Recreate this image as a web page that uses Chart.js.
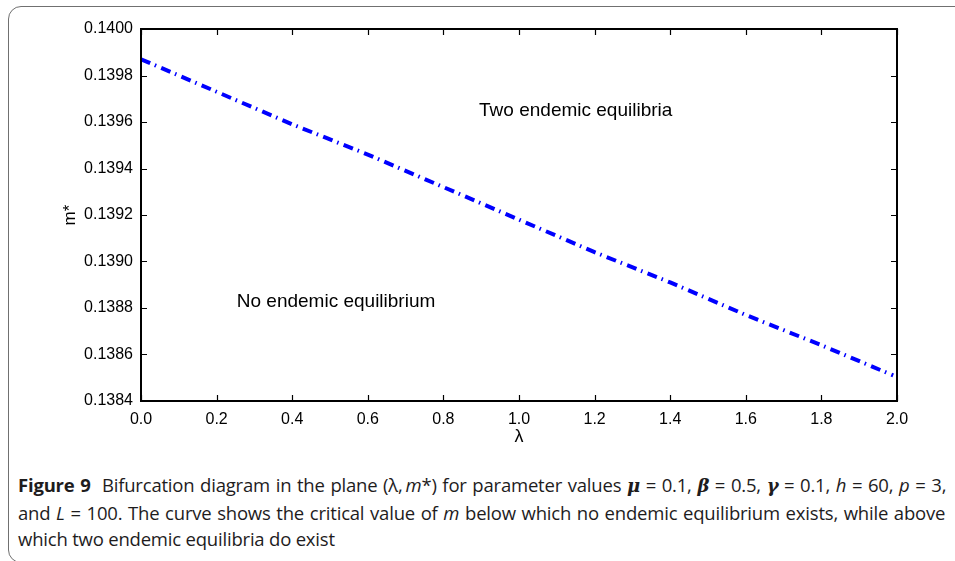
<!DOCTYPE html>
<html>
<head>
<meta charset="utf-8">
<script src="https://cdn.jsdelivr.net/npm/chart.js@4.4.1/dist/chart.umd.min.js"></script>
<style>
  html, body { margin: 0; padding: 0; background: #fff; }
  body { width: 955px; height: 561px; position: relative; overflow: hidden; }
  #box {
    position: absolute; left: 8px; top: 6px; width: 970px; height: 557px;
    border: 1.5px solid #707070; border-radius: 13px; box-sizing: border-box;
  }
  #plot { position: absolute; left: 0; top: 0; }
  #caption {
    position: absolute; left: 18px; top: 472px; width: 927px;
    font-family: "Open Sans", sans-serif; font-size: 18.5px; color: #1e1c1d;
    line-height: 26.5px; letter-spacing: -0.2px;
  }
  #caption .ln { white-space: nowrap; display: inline-block; }
  #caption b.fig { font-weight: 700; }
  #caption .sym { font-weight: 700; font-style: italic; font-family: "DejaVu Serif", serif; font-size: 18px; }
</style>
</head>
<body>
<div id="box"></div>
<canvas id="plot" width="955" height="450"></canvas>
<div id="caption">
  <div class="ln just"><b class="fig">Figure 9</b>&nbsp; Bifurcation diagram in the plane (λ,&thinsp;<i>m</i>*) for parameter values <span class="sym">μ</span> = 0.1, <span class="sym">β</span> = 0.5, <span class="sym">γ</span> = 0.1, <i>h</i> = 60, <i>p</i> = 3,</div><br>
  <div class="ln just">and <i>L</i> = 100. The curve shows the critical value of <i>m</i> below which no endemic equilibrium exists, while above</div><br>
  <div class="ln">which two endemic equilibria do exist</div>
</div>
<script>
// critical m* as a function of lambda
const lambdaValues = [0, 0.2, 0.4, 0.6, 0.8, 1.0, 1.2, 1.4, 1.6, 1.8, 1.99];
const mStar = [0.13987, 0.13973, 0.13959, 0.13946, 0.13932, 0.13918, 0.13904, 0.13891, 0.13877, 0.13864, 0.13851];

const regionText = ["Two endemic equilibria", "No endemic equilibrium"];
const regionLambda = [1.15, 0.516];
const regionM = [0.139647, 0.138826];

const tickFont = { family: '"Liberation Sans", Arial, sans-serif', size: 16 };

// justify the full caption lines by word spacing (may tighten as well as widen)
document.querySelectorAll('#caption .just').forEach(el => {
  const gaps = (el.textContent.trim().match(/ +/g) || []).length;
  el.style.wordSpacing = ((927 - el.offsetWidth) / gaps) + 'px';
});

// box around the plot, inward ticks on all four sides, region labels
const frame = {
  id: 'frame',
  afterDraw(chart) {
    const { ctx, chartArea: a, scales: { x, y } } = chart;
    ctx.save();
    ctx.strokeStyle = '#000';
    ctx.lineWidth = 1.2;
    ctx.beginPath();
    x.ticks.forEach(t => {
      const px = Math.round(x.getPixelForValue(t.value)) + 0.5;
      ctx.moveTo(px, a.bottom); ctx.lineTo(px, a.bottom - 6);
      ctx.moveTo(px, a.top); ctx.lineTo(px, a.top + 6);
    });
    y.ticks.forEach(t => {
      const py = Math.round(y.getPixelForValue(t.value)) + 0.5;
      ctx.moveTo(a.left, py); ctx.lineTo(a.left + 6, py);
      ctx.moveTo(a.right, py); ctx.lineTo(a.right - 6, py);
    });
    ctx.stroke();
    ctx.lineWidth = 2;
    ctx.strokeRect(a.left, a.top, a.right - a.left, a.bottom - a.top);

    ctx.fillStyle = '#000';
    ctx.font = '19px "Liberation Sans", Arial, sans-serif';
    ctx.textAlign = 'center';
    ctx.textBaseline = 'middle';
    regionText.forEach((txt, i) => {
      ctx.fillText(txt, x.getPixelForValue(regionLambda[i]), y.getPixelForValue(regionM[i]));
    });
    ctx.restore();
  }
};

new Chart(document.getElementById('plot'), {
  type: 'line',
  data: {
    datasets: [{
      data: lambdaValues.map((l, i) => ({ x: l, y: mStar[i] })),
      borderColor: '#0000ff',
      borderWidth: 4,
      borderDash: [10, 5, 1.5, 5.5],
      borderCapStyle: 'butt',
      pointRadius: 0,
      tension: 0,
      fill: false
    }]
  },
  options: {
    responsive: false,
    animation: false,
    devicePixelRatio: 1,
    layout: { padding: { top: 29, right: 58, left: 0, bottom: 0 } },
    plugins: { legend: { display: false }, tooltip: { enabled: false } },
    scales: {
      x: {
        type: 'linear',
        min: 0, max: 2,
        grid: { display: false, tickLength: 0 },
        border: { display: false },
        afterFit: s => { s.height = 49; },
        ticks: {
          stepSize: 0.2, padding: 9, color: '#000', font: tickFont,
          maxRotation: 0, autoSkip: false,
          callback: v => v.toFixed(1)
        },
        title: { display: true, text: 'λ', color: '#000', font: { family: tickFont.family, size: 18 }, padding: { top: 0, bottom: 2 } }
      },
      y: {
        type: 'linear',
        min: 0.1384, max: 0.14,
        grid: { display: false, tickLength: 0 },
        border: { display: false },
        afterFit: s => { s.width = 141; },
        ticks: {
          stepSize: 0.0002, padding: 8, color: '#000', font: tickFont,
          autoSkip: false,
          callback: v => v.toFixed(4)
        },
        title: { display: true, text: 'm*', color: '#000', font: { family: tickFont.family, size: 17 }, padding: { top: 60, bottom: 0 } }
      }
    }
  },
  plugins: [frame]
});
</script>
</body>
</html>
